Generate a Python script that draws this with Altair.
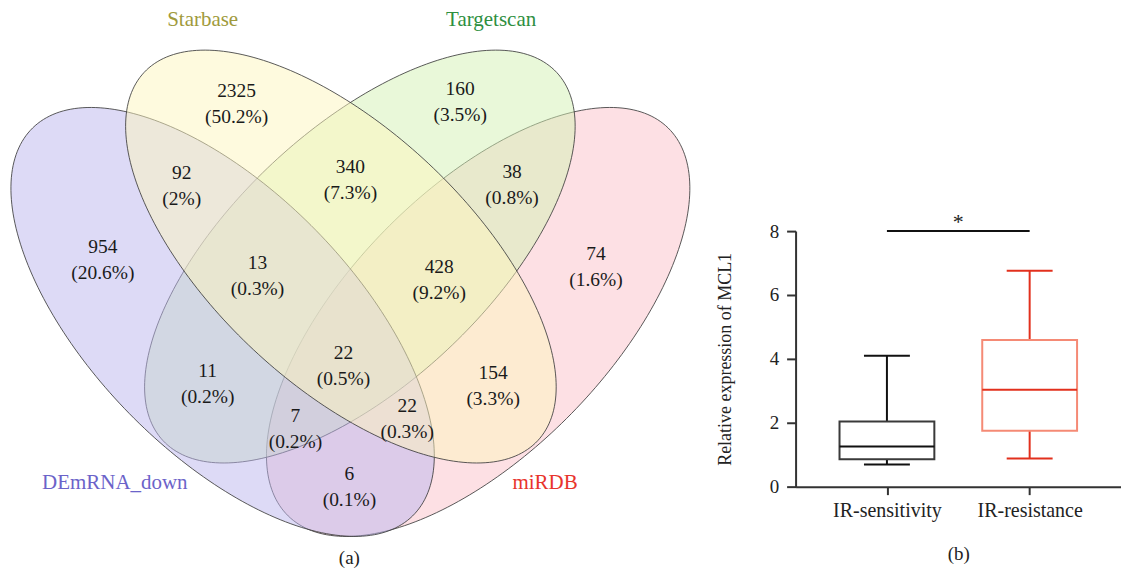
import numpy as np
import pandas as pd
import altair as alt

FONT = "Liberation Serif"

# ---------------- (a) Venn diagram ----------------
set_names = ["DEmRNA_down", "Starbase", "Targetscan", "miRDB"]
set_fill = ["#bbb5ed", "#fdf5bd", "#d3f1b3", "#fbc1c9"]
ell_cx = [221, 339.5, 358.5, 477]
ell_cy = [322, 256.5, 256.5, 322]
ell_a = [272, 270, 270, 272]
ell_b = [131, 128, 128, 131]
ell_tilt = [-44.4, -46.9, 46.9, 44.4]
draw_order = ["miRDB", "Targetscan", "DEmRNA_down", "Starbase"]

set_label_x = [113, 201, 490, 544]
set_label_y = [483, 20, 20, 483]
set_label_color = ["#6b63c9", "#a09a3c", "#2e8f3f", "#e8342c"]

region_counts = ["2325", "160", "92", "340", "38", "954", "13", "428", "74",
                 "11", "22", "154", "7", "22", "6"]
region_pcts = ["(50.2%)", "(3.5%)", "(2%)", "(7.3%)", "(0.8%)", "(20.6%)", "(0.3%)",
               "(9.2%)", "(1.6%)", "(0.2%)", "(0.5%)", "(3.3%)", "(0.2%)", "(0.3%)", "(0.1%)"]
region_x = [235, 459, 180, 349, 511, 101, 256, 438, 595, 206, 342, 492, 294, 406, 348]
region_y = [91, 89, 173, 167, 172, 247, 263, 267, 254, 371, 353, 373, 416, 406, 474]

panel_label_a = ["(a)"]
panel_a_x = [348]
panel_a_y = [558]

# ellipse outlines from their parameters
t = np.linspace(0, 2 * np.pi, 241)
rows = []
for name, cx, cy, a, b, tilt in zip(set_names, ell_cx, ell_cy, ell_a, ell_b, ell_tilt):
    phi = np.deg2rad(tilt)
    ux, uy = np.sin(phi), -np.cos(phi)
    vx, vy = np.cos(phi), np.sin(phi)
    xs = cx + a * np.cos(t) * ux + b * np.sin(t) * vx
    ys = cy + a * np.cos(t) * uy + b * np.sin(t) * vy
    for i, (px, py) in enumerate(zip(xs, ys)):
        rows.append({"set": name, "i": i, "x": float(px), "y": float(py)})
df_ell = pd.DataFrame(rows)

xsc = alt.Scale(domain=[8, 708], nice=False, zero=False)
ysc = alt.Scale(domain=[8, 566], reverse=True, nice=False, zero=False)
X = alt.X("x:Q", scale=xsc, axis=None)
Y = alt.Y("y:Q", scale=ysc, axis=None)

layers = []
for name in draw_order:
    col = set_fill[set_names.index(name)]
    layers.append(
        alt.Chart(df_ell)
        .transform_filter(alt.datum.set == name)
        .mark_line(fill=col, fillOpacity=0.5, stroke="#3c3c3c", strokeWidth=1,
                   strokeOpacity=0.85, clip=False)
        .encode(x=X, y=Y, order="i:Q")
    )

df_reg = pd.DataFrame({"x": region_x, "y": region_y, "c": region_counts, "p": region_pcts})
cnt = alt.Chart(df_reg).mark_text(font=FONT, fontSize=19.5, color="#1a1a1a").encode(
    x=X, y=Y, text="c:N")
pct = alt.Chart(df_reg).mark_text(font=FONT, fontSize=19.5, color="#1a1a1a", dy=26).encode(
    x=X, y=Y, text="p:N")

df_set = pd.DataFrame({"x": set_label_x, "y": set_label_y, "name": set_names})
setlab = alt.Chart(df_set).mark_text(font=FONT, fontSize=21).encode(
    x=X, y=Y, text="name:N",
    color=alt.Color("name:N", scale=alt.Scale(domain=set_names, range=set_label_color), legend=None))

df_a = pd.DataFrame({"x": panel_a_x, "y": panel_a_y, "t": panel_label_a})
alab = alt.Chart(df_a).mark_text(font=FONT, fontSize=19, color="#222").encode(x=X, y=Y, text="t:N")

venn = alt.layer(*layers, cnt, pct, setlab, alab).properties(width=700, height=558)

# ---------------- (b) Box plot ----------------
groups = ["IR-sensitivity", "IR-resistance"]
box_min = [0.69, 0.88]
box_q1 = [0.86, 1.75]
box_median = [1.26, 3.03]
box_q3 = [2.04, 4.59]
box_max = [4.10, 6.76]
line_colors = ["#111111", "#e2301d"]
box_colors = ["#3a3a3a", "#f58a75"]
sig_from = ["IR-sensitivity"]
sig_to = ["IR-resistance"]
sig_level = [8]
sig_mark = ["*"]

df_box = pd.DataFrame({"group": groups, "mn": box_min, "q1": box_q1, "med": box_median,
                       "q3": box_q3, "mx": box_max})
df_sig = pd.DataFrame({"group": sig_from, "group2": sig_to, "level": sig_level, "s": sig_mark})

xb = alt.X("group:N", sort=groups,
           scale=alt.Scale(type="point", domain=groups, padding=0.64),
           axis=alt.Axis(title="(b)", labelAngle=0, labelFontSize=20, labelPadding=6,
                         tickSize=8, titlePadding=24, titleFontSize=19))
yaxis = alt.Axis(values=[0, 2, 4, 6, 8], title="Relative expression of MCL1",
                 titleFontSize=18, titlePadding=33, labelFontSize=19, labelPadding=8,
                 tickSize=9, minExtent=28, maxExtent=28, grid=False)
ysb = alt.Scale(domain=[0, 8], range=[479, 223], nice=False, zero=True)

lc = alt.Color("group:N", scale=alt.Scale(domain=groups, range=line_colors), legend=None)

whisk = alt.Chart(df_box).mark_rule(strokeWidth=2, opacity=1).encode(
    x=xb, y=alt.Y("mn:Q", scale=ysb, axis=yaxis), y2="mx:Q", color=lc)
cap_lo = alt.Chart(df_box).mark_tick(size=46, thickness=2, opacity=1).encode(
    x=xb, y=alt.Y("mn:Q", scale=ysb, axis=yaxis), color=lc)
cap_hi = alt.Chart(df_box).mark_tick(size=46, thickness=2, opacity=1).encode(
    x=xb, y=alt.Y("mx:Q", scale=ysb, axis=yaxis), color=lc)
box = alt.Chart(df_box).mark_bar(size=95, fill="white", strokeWidth=2, fillOpacity=1,
                                 opacity=1).encode(
    x=xb, y=alt.Y("q1:Q", scale=ysb, axis=yaxis), y2="q3:Q",
    stroke=alt.Stroke("group:N", scale=alt.Scale(domain=groups, range=box_colors), legend=None))
med = alt.Chart(df_box).mark_tick(size=95, thickness=2, opacity=1).encode(
    x=xb, y=alt.Y("med:Q", scale=ysb, axis=yaxis), color=lc)
sig = alt.Chart(df_sig).mark_rule(strokeWidth=2, color="#111").encode(
    x=xb, x2="group2:N", y=alt.Y("level:Q", scale=ysb, axis=yaxis))
star = alt.Chart(df_sig).mark_text(font=FONT, fontSize=22, dx=71.5, dy=-9, color="#222").encode(
    x=xb, y=alt.Y("level:Q", scale=ysb, axis=yaxis), text="s:N")

boxplot = alt.layer(whisk, cap_lo, cap_hi, box, med, sig, star).properties(width=326, height=479)

chart = (
    alt.hconcat(venn, boxplot, spacing=8)
    .resolve_scale(color="independent", stroke="independent")
    .properties(padding=0)
    .configure_view(stroke=None)
    .configure_axis(labelFont=FONT, titleFont=FONT, titleFontWeight="normal",
                    labelColor="#222", titleColor="#222", domainColor="#333",
                    tickColor="#333", domainWidth=2, tickWidth=2)
)

chart.save("out.html", embed_options={"renderer": "svg", "actions": False})
